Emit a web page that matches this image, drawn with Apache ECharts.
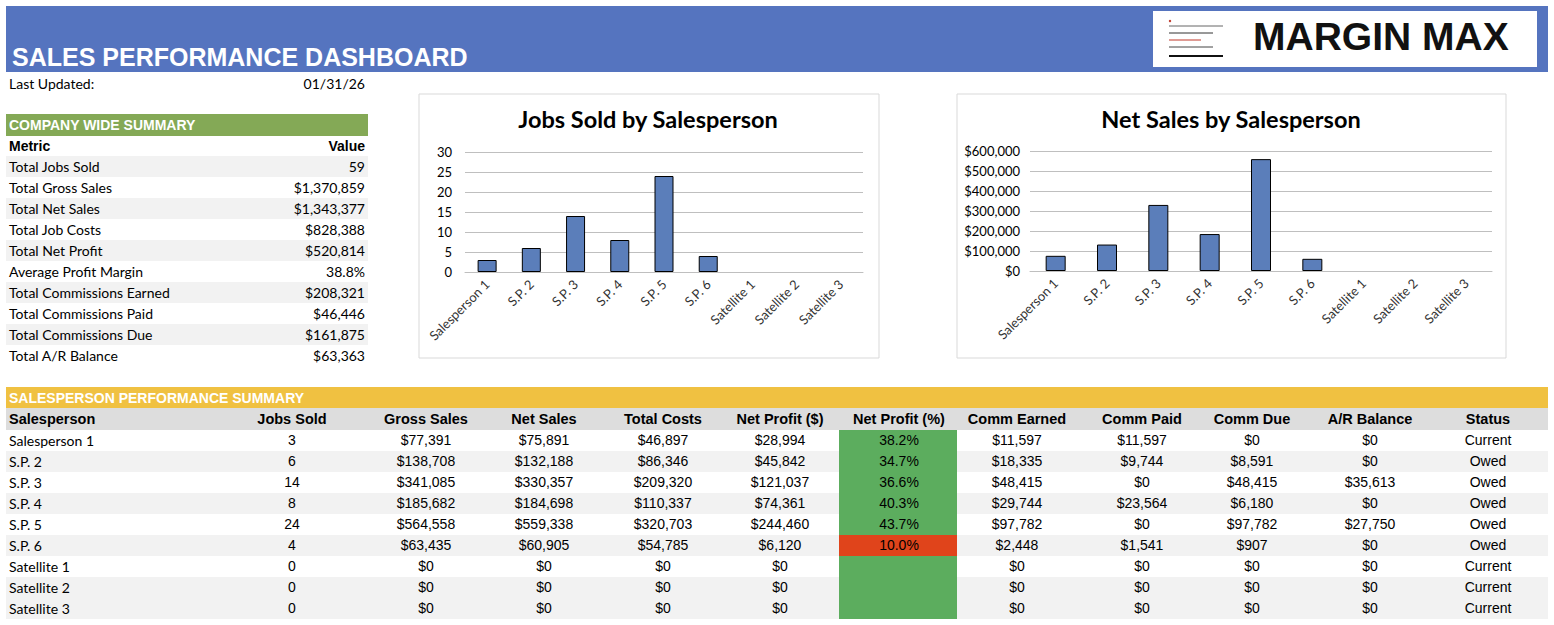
<!DOCTYPE html>
<html>
<head>
<meta charset="utf-8">
<script src="https://cdn.jsdelivr.net/npm/echarts@6/dist/echarts.min.js"></script>
<style>
html,body{margin:0;padding:0;background:#fff;}
#main{width:1554px;height:625px;}
</style>
</head>
<body>
<div id="main"></div>
<script>
// ---------- DATA ----------
const categories = ['Salesperson 1','S.P. 2','S.P. 3','S.P. 4','S.P. 5','S.P. 6','Satellite 1','Satellite 2','Satellite 3'];
const jobsSold   = [3, 6, 14, 8, 24, 4, 0, 0, 0];
const grossSales = [77391, 138708, 341085, 185682, 564558, 63435, 0, 0, 0];
const netSales   = [75891, 132188, 330357, 184698, 559338, 60905, 0, 0, 0];
const totalCosts = [46897, 86346, 209320, 110337, 320703, 54785, 0, 0, 0];
const netProfit  = [28994, 45842, 121037, 74361, 244460, 6120, 0, 0, 0];
const netProfitPct = [38.2, 34.7, 36.6, 40.3, 43.7, 10.0, null, null, null];
const commEarned = [11597, 18335, 48415, 29744, 97782, 2448, 0, 0, 0];
const commPaid   = [11597, 9744, 0, 23564, 0, 1541, 0, 0, 0];
const commDue    = [0, 8591, 48415, 6180, 97782, 907, 0, 0, 0];
const arBalance  = [0, 0, 35613, 0, 27750, 0, 0, 0, 0];
const statusList = ['Current','Owed','Owed','Owed','Owed','Owed','Current','Current','Current'];

const summaryMetrics = ['Total Jobs Sold','Total Gross Sales','Total Net Sales','Total Job Costs','Total Net Profit','Average Profit Margin','Total Commissions Earned','Total Commissions Paid','Total Commissions Due','Total A/R Balance'];
const summaryValues  = ['59','$1,370,859','$1,343,377','$828,388','$520,814','38.8%','$208,321','$46,446','$161,875','$63,363'];

const tableHeaders = ['Salesperson','Jobs Sold','Gross Sales','Net Sales','Total Costs','Net Profit ($)','Net Profit (%)','Comm Earned','Comm Paid','Comm Due','A/R Balance','Status'];
const jobsTicks = [0, 5, 10, 15, 20, 25, 30];
const salesTicks = [0, 100000, 200000, 300000, 400000, 500000, 600000];
const lastUpdated = '01/31/26';

// ---------- HELPERS ----------
const money = v => '$' + Number(v).toLocaleString('en-US');
const CAL = 'Lato, "Open Sans", sans-serif';
const ARI = '"Liberation Sans", Arial, sans-serif';

const g = [];
function rect(x, y, w, h, fill, extra) {
  g.push(Object.assign({type:'rect', shape:{x, y, width:w, height:h}, style:{fill}, silent:true}, extra||{}));
}
function text(x, y, t, font, fill, align, valign) {
  g.push({type:'text', silent:true, style:{x, y, text:t, font, fill:fill||'#000', textAlign:align||'left', textVerticalAlign:valign||'middle'}});
}
function line(x1, y1, x2, y2, stroke, lw) {
  g.push({type:'line', silent:true, shape:{x1, y1, x2, y2}, style:{stroke, lineWidth:lw}});
}

// header band
rect(6, 6, 1542, 66, '#5574BF');
text(12, 57, 'SALES PERFORMANCE DASHBOARD', 'bold 25px ' + ARI, '#fff');
// logo
rect(1153, 11, 384, 56, '#fff');
g.push({type:'circle', silent:true, shape:{cx:1170, cy:21, r:1.2}, style:{fill:'#c0392b'}});
line(1169, 26, 1223, 26, '#666', 1);
line(1169, 33, 1213, 33, '#333', 1);
line(1169, 40, 1201, 40, '#c0392b', 1);
line(1169, 47, 1213, 47, '#444', 1);
line(1169, 56, 1223, 56, '#111', 2);
text(1253, 36.5, 'MARGIN MAX', 'bold 39px ' + ARI, '#111');

// last updated
text(9, 83, 'Last Updated:', '14px ' + CAL, '#000');
text(365, 83, lastUpdated, '14px ' + CAL, '#000', 'right');

// company-wide summary
rect(6, 114, 362, 22, '#84A956');
text(9, 125, 'COMPANY WIDE SUMMARY', 'bold 14px ' + ARI, '#fff');
text(9, 146, 'Metric', 'bold 14px ' + ARI, '#000');
text(365, 146, 'Value', 'bold 14px ' + ARI, '#000', 'right');
summaryMetrics.forEach((m, i) => {
  const y0 = 156 + 21 * i;
  if (i % 2 === 0) rect(6, y0, 362, 21, '#F2F2F2');
  text(9, y0 + 10.5, m, '14px ' + CAL, '#000');
  text(365, y0 + 10.5, summaryValues[i], '14px ' + CAL, '#000', 'right');
});

// chart frames
rect(419, 94, 460, 264, 'none', {style:{fill:'#fff', stroke:'#D9D9D9', lineWidth:1}, z:-10});
rect(957, 94, 549, 264, 'none', {style:{fill:'#fff', stroke:'#D9D9D9', lineWidth:1}, z:-10});

// salesperson performance table
rect(6, 387, 1542, 21, '#F0C141');
text(9, 397.5, 'SALESPERSON PERFORMANCE SUMMARY', 'bold 14px ' + ARI, '#fff');
rect(6, 408, 1542, 22, '#DDDDDD');
const colX = [9, 292, 426, 544, 663, 780, 899, 1017, 1142, 1252, 1370, 1488];
tableHeaders.forEach((h, j) => {
  text(colX[j], 419, h, 'bold 14.5px ' + ARI, '#000', j === 0 ? 'left' : 'center');
});
categories.forEach((name, i) => {
  const y0 = 430 + 21 * i;
  if (i % 2 === 1 || i === categories.length - 1) rect(6, y0, 1542, 21, '#F2F2F2');
  const pct = netProfitPct[i];
  rect(839, y0, 118, 21, (pct !== null && pct < 20) ? '#E0441B' : '#5CAD5E');
  const yc = y0 + 10;
  text(colX[0], yc, name, '14px ' + CAL, '#000');
  const cells = [String(jobsSold[i]), money(grossSales[i]), money(netSales[i]), money(totalCosts[i]), money(netProfit[i]),
    pct === null ? '' : pct.toFixed(1) + '%', money(commEarned[i]), money(commPaid[i]), money(commDue[i]), money(arBalance[i]), statusList[i]];
  cells.forEach((c, k) => {
    if (c !== '') text(colX[k + 1], yc, c, '14px ' + ARI, '#000', 'center');
  });
});

// ---------- CHART ----------
const chart = echarts.init(document.getElementById('main'), null, {renderer:'svg', width:1554, height:625});
const axisLabelX = {rotate:45, interval:0, margin:10, fontFamily:CAL, fontSize:13, color:'#333'};
const barStyle = {color:'#5B7EBA', borderColor:'#000', borderWidth:1};
const barData = arr => arr.map(v => v === 0 ? {value:0, itemStyle:{borderWidth:0, opacity:0}} : v);
chart.setOption({
  animation:false,
  backgroundColor:'#fff',
  title:[
    {text:'Jobs Sold by Salesperson', left:643, top:102, textAlign:'center', textStyle:{fontFamily:CAL, fontWeight:'bold', fontSize:23.5, color:'#000'}},
    {text:'Net Sales by Salesperson', left:1226, top:102, textAlign:'center', textStyle:{fontFamily:CAL, fontWeight:'bold', fontSize:23.5, color:'#000'}}
  ],
  grid:[
    {left:465, top:152, width:398, height:120},
    {left:1030, top:151, width:462, height:120}
  ],
  xAxis:[
    {type:'category', gridIndex:0, data:categories, axisTick:{show:false}, axisLine:{lineStyle:{color:'#BFBFBF'}}, axisLabel:axisLabelX},
    {type:'category', gridIndex:1, data:categories, axisTick:{show:false}, axisLine:{lineStyle:{color:'#BFBFBF'}}, axisLabel:axisLabelX}
  ],
  yAxis:[
    {type:'value', gridIndex:0, min:jobsTicks[0], max:jobsTicks[jobsTicks.length-1], interval:5,
     splitLine:{lineStyle:{color:'#BFBFBF'}}, axisLabel:{margin:13, fontFamily:CAL, fontSize:13, color:'#000'}},
    {type:'value', gridIndex:1, min:salesTicks[0], max:salesTicks[salesTicks.length-1], interval:100000,
     splitLine:{lineStyle:{color:'#BFBFBF'}}, axisLabel:{margin:10, fontFamily:CAL, fontSize:13, color:'#000', formatter:v => money(v)}}
  ],
  series:[
    {type:'bar', xAxisIndex:0, yAxisIndex:0, data:barData(jobsSold), barWidth:19, itemStyle:barStyle},
    {type:'bar', xAxisIndex:1, yAxisIndex:1, data:barData(netSales), barWidth:20, itemStyle:barStyle}
  ],
  graphic:{elements:g}
});
</script>
</body>
</html>
